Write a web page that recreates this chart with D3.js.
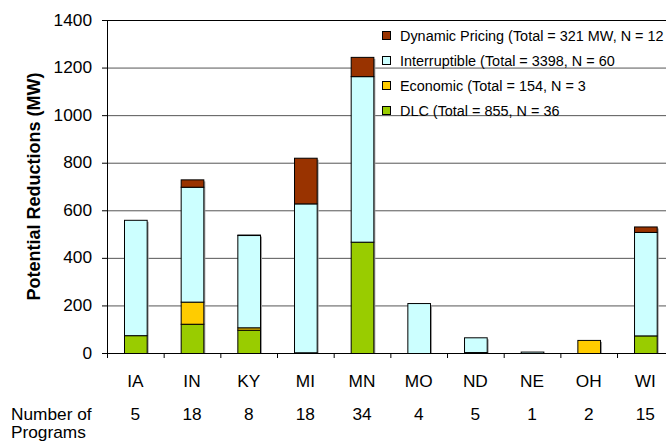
<!DOCTYPE html>
<html>
<head>
<meta charset="utf-8">
<script src="https://cdn.jsdelivr.net/npm/d3@7"></script>
<style>
html,body{margin:0;padding:0;background:#fff;overflow:hidden;}
svg{display:block;font-family:"Liberation Sans",Arial,sans-serif;}
</style>
</head>
<body>
<svg id="chart" width="666" height="442"></svg>
<script>
const categories = ["IA","IN","KY","MI","MN","MO","ND","NE","OH","WI"];
const programs = [5,18,8,18,34,4,5,1,2,15];
const dlc = [75,123,98,3,468,0,4,0,0,74];
const economic = [0,93,10,0,0,0,0,0,55,0];
const interruptible = [485,483,388,626,696,210,62,6,0,435];
const dynamic = [0,31,2,192,81,0,0,0,0,23];
const yTicks = [0,200,400,600,800,1000,1200,1400];
const seriesNames = ["DLC","Economic","Interruptible","Dynamic Pricing"];
const legendLabels = [
  "Dynamic Pricing (Total = 321 MW, N = 12",
  "Interruptible (Total = 3398, N = 60",
  "Economic (Total = 154, N = 3",
  "DLC (Total = 855, N = 36"
];
const colors = {"DLC":"#99CC00","Economic":"#FFCC00","Interruptible":"#CCFFFF","Dynamic Pricing":"#993300"};

const svg = d3.select("#chart");
const pL = 107, pR = 673.7, pT = 20, pB = 353;
const sx = 1.08;

const x = d3.scaleBand().domain(categories).range([pL, pR]).paddingInner(0.6).paddingOuter(0.3);
const y = d3.scaleLinear().domain([0,1400]).range([pB, pT]);

function txt(g, xx, yy, s, size, anchor, weight, scaleX){
  return g.append("text")
    .attr("transform", `translate(${xx},${yy}) scale(${scaleX||sx},1)`)
    .attr("text-anchor", anchor||"start")
    .attr("font-size", size)
    .attr("font-weight", weight||"normal")
    .attr("fill","#000")
    .text(s);
}

// gridlines
svg.append("g").selectAll("line").data(yTicks.filter(d=>d>0)).join("line")
  .attr("x1", pL).attr("x2", pR)
  .attr("y1", d=>y(d)+0.5).attr("y2", d=>y(d)+0.5)
  .attr("stroke", d=> d===1400 ? "#000" : "#555").attr("stroke-width",1);

// data rows
const rows = categories.map((c,i)=>({cat:c, "DLC":dlc[i], "Economic":economic[i], "Interruptible":interruptible[i], "Dynamic Pricing":dynamic[i]}));
const stack = d3.stack().keys(seriesNames)(rows);
const total = d=>d["DLC"]+d["Economic"]+d["Interruptible"]+d["Dynamic Pricing"];

// shadows
svg.append("g").selectAll("rect").data(rows).join("rect")
  .attr("x", d=>x(d.cat)+2)
  .attr("width", x.bandwidth())
  .attr("y", d=>y(total(d))+2)
  .attr("height", d=>Math.max(0, pB - y(total(d))-2))
  .attr("fill","#a0a0a0");

const bars = svg.append("g");
stack.forEach(s=>{
  bars.append("g").selectAll("rect").data(s.filter(d=>d[1]-d[0]>0)).join("rect")
    .attr("x", d=>x(d.data.cat)+0.5)
    .attr("width", x.bandwidth())
    .attr("y", d=>y(d[1])+0.5)
    .attr("height", d=>Math.max(0.01, y(d[0])-y(d[1])))
    .attr("fill", colors[s.key])
    .attr("stroke","#000").attr("stroke-width",1);
});

// y axis
const ya = svg.append("g");
ya.append("line").attr("x1",pL+0.5).attr("x2",pL+0.5).attr("y1",pT).attr("y2",pB+0.5).attr("stroke","#000");
yTicks.forEach(t=>{
  ya.append("line").attr("x1",pL-5).attr("x2",pL).attr("y1",y(t)+0.5).attr("y2",y(t)+0.5).attr("stroke","#000");
  txt(ya, 92, y(t)+5.6, t, 16, "end");
});

// x axis
const xa = svg.append("g");
xa.append("line").attr("x1",pL).attr("x2",pR).attr("y1",pB+0.5).attr("y2",pB+0.5).attr("stroke","#000");
const boundaries = categories.map(c=>x(c) - x.step()*x.paddingOuter());
boundaries.forEach(b=>{
  xa.append("line").attr("x1",b+0.5).attr("x2",b+0.5).attr("y1",pB).attr("y2",pB+5).attr("stroke","#000");
});
categories.forEach((c,i)=>{
  const cx = x(c)+x.bandwidth()/2;
  txt(xa, cx, 387, c, 16, "middle");
  txt(xa, cx, 420, programs[i], 16, "middle");
});
txt(xa, 11, 420, "Number of", 16, "start");
txt(xa, 11, 438, "Programs", 16, "start");

// y title
svg.append("text")
  .attr("transform", `translate(40,${(pT+pB)/2}) rotate(-90)`)
  .attr("text-anchor","middle")
  .attr("font-size",18).attr("font-weight","bold")
  .text("Potential Reductions (MW)");

// legend
const lg = svg.append("g");
const legendKeys = ["Dynamic Pricing","Interruptible","Economic","DLC"];
legendKeys.forEach((k,i)=>{
  const cy = 36 + i*25;
  lg.append("rect").attr("x",382.5).attr("y",cy-4.5).attr("width",8).attr("height",8)
    .attr("fill",colors[k]).attr("stroke","#000").attr("stroke-width",1);
  txt(lg, 400, cy+5, legendLabels[i], 14, "start", "normal", 1.03);
});
</script>
</body>
</html>
